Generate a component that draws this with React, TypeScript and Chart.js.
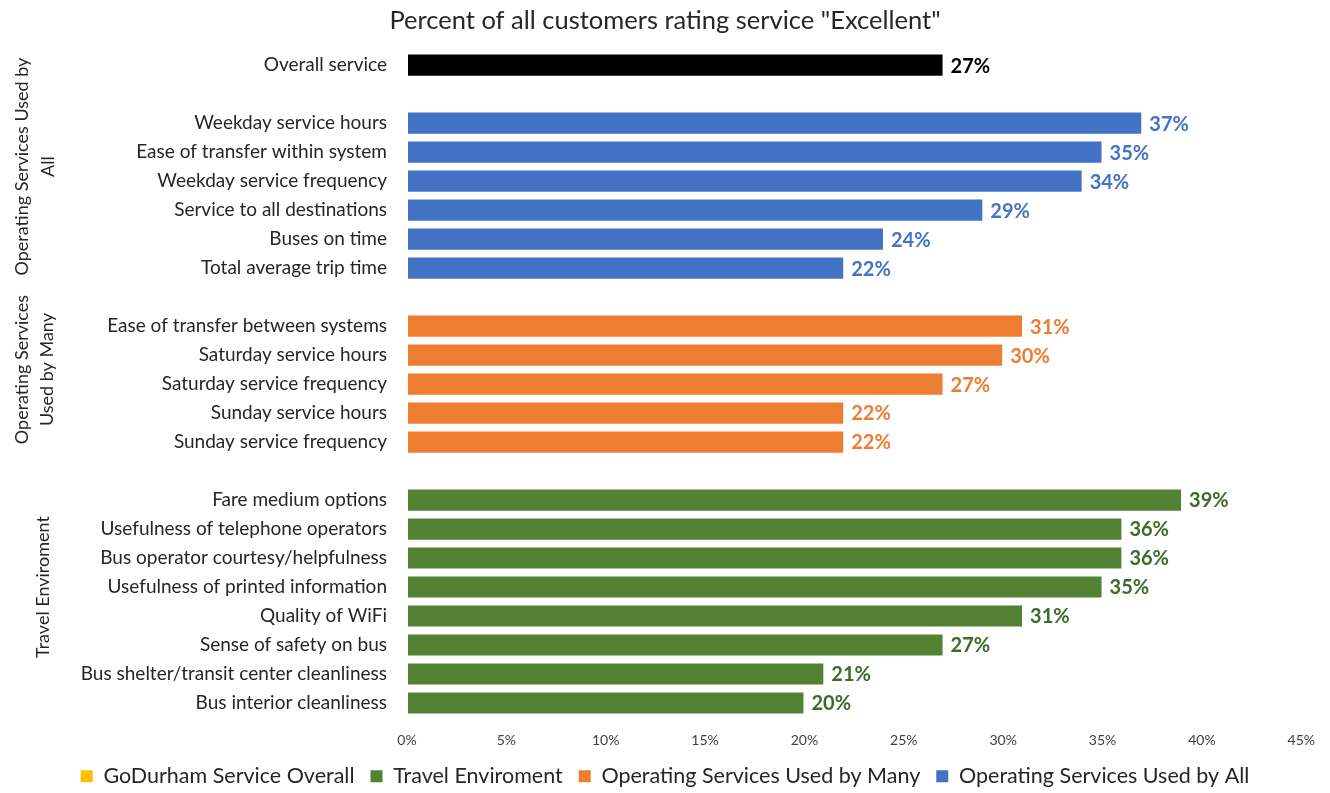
import React, { useEffect, useRef } from "react";
import { Chart, registerables } from "chart.js";

Chart.register(...registerables);

const titleText = 'Percent of all customers rating service "Excellent"';

const overallLabels = ["Overall service"];
const overallValues = [27];

const allLabels = [
  "Weekday service hours",
  "Ease of transfer within system",
  "Weekday service frequency",
  "Service to all destinations",
  "Buses on time",
  "Total average trip time",
];
const allValues = [37, 35, 34, 29, 24, 22];

const manyLabels = [
  "Ease of transfer between systems",
  "Saturday service hours",
  "Saturday service frequency",
  "Sunday service hours",
  "Sunday service frequency",
];
const manyValues = [31, 30, 27, 22, 22];

const travelLabels = [
  "Fare medium options",
  "Usefulness of telephone operators",
  "Bus operator courtesy/helpfulness",
  "Usefulness of printed information",
  "Quality of WiFi",
  "Sense of safety on bus",
  "Bus shelter/transit center cleanliness",
  "Bus interior cleanliness",
];
const travelValues = [39, 36, 36, 35, 31, 27, 21, 20];

const seriesNames = [
  "GoDurham Service Overall",
  "Travel Enviroment",
  "Operating Services Used by Many",
  "Operating Services Used by All",
];

const xTicks = [0, 5, 10, 15, 20, 25, 30, 35, 40, 45];

const FONT = "Lato";

export default function App() {
  const ref = useRef<HTMLCanvasElement | null>(null);

  useEffect(() => {
    if (!ref.current) return;

    const categories: string[] = [
      ...overallLabels,
      "",
      ...allLabels,
      "",
      ...manyLabels,
      "",
      ...travelLabels,
    ];
    const n = categories.length;
    const iAll = overallLabels.length + 1;
    const iMany = iAll + allLabels.length + 1;
    const iTravel = iMany + manyLabels.length + 1;

    const place = (vals: number[], start: number) => {
      const arr: (number | null)[] = new Array(n).fill(null);
      vals.forEach((v, i) => (arr[start + i] = v));
      return arr;
    };

    const overallData = place(overallValues, 0);
    const travelData = place(travelValues, iTravel);
    const manyData = place(manyValues, iMany);
    const allData = place(allValues, iAll);

    const labelColors = ["#000000", "#3e6b27", "#ed7d31", "#4472c4"];
    const legendColors = ["#ffc000", "#548235", "#ed7d31", "#4472c4"];

    const groups = [
      { lines: ["Operating Services Used by", "All"], from: 0, to: iAll + allLabels.length - 1, xs: [22, 48] },
      { lines: ["Operating Services", "Used by Many"], from: iMany - 1, to: iMany + manyLabels.length - 1, xs: [22, 47] },
      { lines: ["Travel Enviroment"], from: iTravel - 1, to: iTravel + travelLabels.length - 1, xs: [43] },
    ];

    const dataLabelPlugin = {
      id: "dataLabels",
      afterDatasetsDraw(chart: any) {
        const ctx = chart.ctx;
        ctx.save();
        ctx.font = `bold 20px ${FONT}`;
        ctx.textAlign = "left";
        ctx.textBaseline = "middle";
        chart.data.datasets.forEach((ds: any, di: number) => {
          const meta = chart.getDatasetMeta(di);
          meta.data.forEach((el: any, i: number) => {
            const v = ds.data[i];
            if (v === null || v === undefined) return;
            ctx.fillStyle = labelColors[di];
            ctx.fillText(`${v}%`, el.x + 7, el.y + 1);
          });
        });
        ctx.restore();
      },
    };

    const groupLabelPlugin = {
      id: "groupLabels",
      afterDraw(chart: any) {
        const ctx = chart.ctx;
        const y = chart.scales.y;
        ctx.save();
        ctx.font = `18px ${FONT}`;
        ctx.fillStyle = "#262626";
        ctx.textAlign = "center";
        ctx.textBaseline = "middle";
        groups.forEach((g) => {
          const cy = (y.getPixelForValue(g.from) + y.getPixelForValue(g.to)) / 2;
          g.lines.forEach((line, li) => {
            ctx.save();
            ctx.translate(g.xs[li], cy);
            ctx.rotate(-Math.PI / 2);
            ctx.fillText(line, 0, 0);
            ctx.restore();
          });
        });
        ctx.restore();
      },
    };

    const mk = (label: string, data: (number | null)[], color: string) => ({
      label,
      data,
      backgroundColor: color,
      borderColor: "rgba(255,255,255,0.5)",
      borderWidth: 1,
      borderSkipped: false,
      barPercentage: 0.8,
      categoryPercentage: 1,
    });

    const chart = new Chart(ref.current, {
      type: "bar",
      data: {
        labels: categories,
        datasets: [
          mk(seriesNames[0], overallData, "#000000"),
          mk(seriesNames[1], travelData, "#548235"),
          mk(seriesNames[2], manyData, "#ed7d31"),
          mk(seriesNames[3], allData, "#4472c4"),
        ],
      },
      options: {
        indexAxis: "y",
        animation: false,
        responsive: false,
        layout: { padding: { left: 26, right: 26, top: 0, bottom: -4 } },
        scales: {
          x: {
            stacked: true,
            min: 0,
            max: 45,
            afterBuildTicks: (scale: any) => {
              scale.ticks = xTicks.map((v) => ({ value: v }));
            },
            afterFit: (scale: any) => {
              scale.height = 32;
            },
            ticks: {
              callback: (v: any) => `${v}%`,
              font: { family: FONT, size: 14 },
              color: "#404040",
              padding: 15,
            },
            grid: { display: false, drawTicks: false },
            border: { display: false },
          },
          y: {
            stacked: true,
            afterFit: (scale: any) => {
              scale.width = 381;
            },
            ticks: {
              autoSkip: false,
              font: { family: FONT, size: 19 },
              color: "#262626",
              padding: 20,
            },
            grid: { display: false, drawTicks: false },
            border: { display: false },
          },
        },
        plugins: {
          title: {
            display: true,
            text: titleText,
            font: { family: FONT, size: 25.5, weight: "normal" },
            color: "#262626",
            padding: { top: 5, bottom: 15 },
          },
          legend: {
            position: "bottom",
            labels: {
              font: { family: FONT, size: 21.5 },
              color: "#262626",
              boxWidth: 12,
              boxHeight: 12,
              padding: 16,
              generateLabels: (chart: any) => {
                const items = Chart.defaults.plugins.legend.labels.generateLabels(chart);
                items.forEach((it: any, i: number) => {
                  it.fillStyle = legendColors[i];
                  it.strokeStyle = legendColors[i];
                  it.lineWidth = 0;
                });
                return items;
              },
            },
          },
          tooltip: { enabled: false },
        },
      },
      plugins: [dataLabelPlugin, groupLabelPlugin],
    } as any);

    return () => chart.destroy();
  }, []);

  return (
    <div style={{ position: "fixed", left: 0, top: 0, width: 1330, height: 793, background: "#fff" }}>
      <canvas ref={ref} width={1330} height={793} />
    </div>
  );
}
